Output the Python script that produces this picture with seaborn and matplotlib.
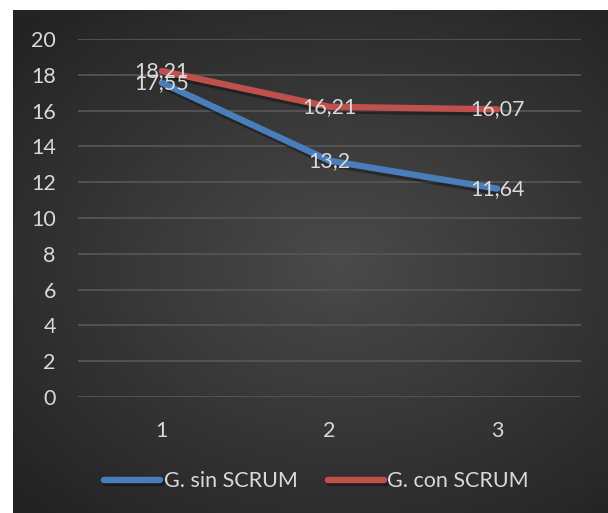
import numpy as np
import pandas as pd
import matplotlib.pyplot as plt
import matplotlib.patheffects as pe
import seaborn as sns

categories = ["1", "2", "3"]
sin_scrum = [17.55, 13.2, 11.64]
con_scrum = [18.21, 16.21, 16.07]
series_names = ["G. sin SCRUM", "G. con SCRUM"]
colors = ["#4a7ebb", "#c0504d"]

sns.set_style("white")
plt.rcParams['font.family'] = ['Lato', 'DejaVu Sans']

df = pd.DataFrame({
    'x': list(range(1, len(categories) + 1)) * 2,
    'valor': sin_scrum + con_scrum,
    'serie': [series_names[0]] * 3 + [series_names[1]] * 3,
})

fig = plt.figure(figsize=(6.08, 5.13), dpi=100, facecolor='white')

# dark radial background (Excel style)
bg = fig.add_axes([13 / 608, 0, 595 / 608, 503 / 513])
yy, xx = np.mgrid[-1:1:300j, -1:1:350j]
r = np.sqrt(((xx - 0.1) * 0.9) ** 2 + (yy * 1.0) ** 2)
grad = np.clip(1 - r / 1.35, 0, 1)
bg.imshow(grad, cmap=sns.blend_palette(["#232323", "#4a4a4a"], as_cmap=True),
          aspect='auto', extent=[0, 1, 0, 1], vmin=0, vmax=1)
bg.set_axis_off()

ax = fig.add_axes([78 / 608, 116 / 513, 503 / 608, 358 / 513])
ax.set_facecolor('none')

sns.lineplot(data=df, x='x', y='valor', hue='serie', palette=colors,
             linewidth=4.6, ax=ax, solid_capstyle='round',
             path_effects=[pe.SimpleLineShadow(offset=(1.5, -2.5), alpha=0.35, shadow_color='black'),
                           pe.Normal()])

fs = 15.5
for vals in [sin_scrum, con_scrum]:
    for i, v in enumerate(vals):
        ax.text(i + 1, v, f"{v:g}".replace('.', ','), ha='center', va='center',
                color='#d9d9d9', fontsize=fs)

ax.set_xlim(0.5, 3.5)
ax.set_ylim(0, 20)
ax.set_yticks(range(0, 21, 2))
ax.set_xticks(range(1, len(categories) + 1))
ax.set_xticklabels(categories)
ax.yaxis.grid(True, color='#555555', linewidth=1.3)
ax.xaxis.grid(False)
ax.set_axisbelow(True)
for s in ax.spines.values():
    s.set_visible(False)
ax.tick_params(colors='#d9d9d9', labelsize=fs, length=0)
ax.tick_params(axis='y', pad=16)
ax.tick_params(axis='x', pad=17)
ax.set_xlabel('')
ax.set_ylabel('')

leg = ax.legend(loc='center', bbox_to_anchor=(0.474, -0.235), ncol=2, frameon=False,
                fontsize=fs, handlelength=2.6, handletextpad=0.15, columnspacing=1.4)
for t in leg.get_texts():
    t.set_color('#d9d9d9')
for h in leg.legend_handles:
    h.set_linewidth(4.6)
    h.set_solid_capstyle('round')

fig.savefig('out.png', dpi=100, facecolor='white')
